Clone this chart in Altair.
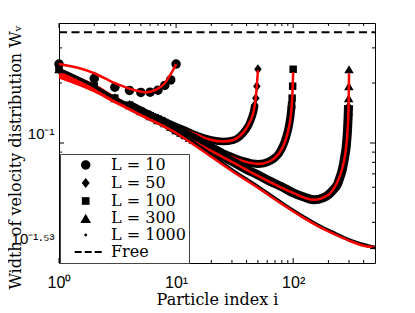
import altair as alt
import pandas as pd

# ---------------- data ----------------
free_i = [1, 500]
free_w = [0.359, 0.359]

l10_i = [1, 2, 3, 4, 5, 6, 7, 8, 9, 10]
l10_w = [0.249, 0.2106, 0.1905, 0.1835, 0.1793, 0.1799, 0.184, 0.1943, 0.2072, 0.249]
l10_fit_i = [1, 1.5, 2, 3, 4, 5, 5.5, 6, 7, 8, 9, 9.5, 10]
l10_fit_w = [0.249, 0.237, 0.2239, 0.1995, 0.1873, 0.1809, 0.1799, 0.1809, 0.1873, 0.1995, 0.2213, 0.2344, 0.249]

l50_mark_i = [1, 2, 3, 4, 5, 6, 7, 8, 47, 48, 49, 50]
l50_mark_w = [0.2344, 0.1928, 0.1679, 0.1549, 0.1445, 0.1380, 0.1326, 0.1281, 0.1549, 0.1679, 0.1928, 0.2344]
l50_band_i = [4, 5, 6, 8, 10, 12, 16, 20, 25, 31, 35, 39, 41, 43, 45, 46, 47]
l50_band_w = [0.1549, 0.1445, 0.1380, 0.1281, 0.1209, 0.1155, 0.1077, 0.1035, 0.1017, 0.1035, 0.1077, 0.1155, 0.1209, 0.1281, 0.1380, 0.1445, 0.1549]
l50_fit_i = [1, 2, 3, 5, 8, 12, 16, 20, 25.5, 31, 35, 39, 43, 46, 48, 49, 50]
l50_fit_w = [0.2291, 0.1950, 0.1698, 0.1445, 0.1288, 0.1161, 0.1084, 0.1035, 0.1017, 0.1035, 0.1084, 0.1161, 0.1288, 0.1445, 0.1698, 0.1950, 0.2317]

l100_mark_i = [1, 2, 3, 4, 5, 6, 7, 8, 97, 98, 99, 100]
l100_mark_w = [0.2344, 0.1928, 0.1679, 0.1549, 0.1445, 0.1372, 0.1318, 0.1266, 0.1549, 0.1679, 0.1928, 0.2344]
l100_band_i = [4, 5, 6, 8, 10, 12, 16, 20, 25, 30, 35, 40, 45, 50, 56, 61, 66, 71, 76, 81, 85, 89, 91, 93, 95, 97]
l100_band_w = [0.1549, 0.1445, 0.1372, 0.1266, 0.1182, 0.1122, 0.1023, 0.0955, 0.0891, 0.0851, 0.0822, 0.0804, 0.0790,
               0.0785, 0.0790, 0.0804, 0.0822, 0.0851, 0.0891, 0.0955, 0.1023, 0.1122, 0.1182, 0.1266, 0.1372, 0.1549]
l100_fit_i = [1, 2, 3, 5, 10, 16, 25, 35, 50.5, 66, 76, 85, 91, 96, 98, 99, 100]
l100_fit_w = [0.2239, 0.1905, 0.1660, 0.1413, 0.1161, 0.1012, 0.0891, 0.0822, 0.0785, 0.0822, 0.0891, 0.1012, 0.1161, 0.1413, 0.1660, 0.1905, 0.2265]

l300_mark_i = [1, 2, 3, 4, 5, 6, 7, 8, 9, 10, 11, 12, 13, 14, 296, 297, 298, 299, 300]
l300_mark_w = [0.2344, 0.1928, 0.1679, 0.1549, 0.1445, 0.1365, 0.1303, 0.1259, 0.1209, 0.1161, 0.1128, 0.1096, 0.1065, 0.1041,
               0.1445, 0.1549, 0.1679, 0.1928, 0.2344]
l300_band_i = [4, 5, 6, 8, 10, 12, 14, 16, 20, 25, 30, 40, 50, 65, 80, 100, 122, 150, 180, 200, 220, 240, 250, 260, 270, 278,
               283, 288, 291, 293, 295, 297]
l300_band_w = [0.1549, 0.1445, 0.1365, 0.1259, 0.1161, 0.1096, 0.1041, 0.0989, 0.0917, 0.0861, 0.0808, 0.0737, 0.0692, 0.0638,
               0.0603, 0.0562, 0.0537, 0.0519, 0.0531, 0.0550, 0.0582, 0.0624, 0.0668, 0.0716, 0.0794, 0.0881, 0.0944, 0.1059,
               0.1148, 0.1259, 0.1365, 0.1549]
l300_fit_i = [1, 2, 3, 5, 10, 20, 30, 50, 80, 100, 150, 200, 221, 251, 271, 281, 291, 296, 298, 299, 300]
l300_fit_w = [0.2188, 0.1862, 0.1622, 0.1380, 0.1135, 0.0912, 0.0804, 0.0684, 0.0596, 0.0562, 0.0519, 0.0550, 0.0589, 0.0684,
              0.0804, 0.0912, 0.1135, 0.1380, 0.1622, 0.1862, 0.2239]

l1000_i = [1, 2, 3, 5, 10, 16, 30, 50, 82, 122, 160, 220, 300, 400, 500]
l1000_w = [0.2344, 0.1928, 0.1679, 0.1445, 0.1161, 0.0955, 0.0733, 0.0603, 0.0495, 0.0427, 0.0389, 0.0355, 0.0327, 0.0309, 0.0299]
l1000_fit_w = [0.2138, 0.1820, 0.1603, 0.1380, 0.1122, 0.0933, 0.0724, 0.0596, 0.0490, 0.0422, 0.0385, 0.0351, 0.0324, 0.0305, 0.0299]

# axis ticks
x_major = [1, 10, 100]
x_minor = [2, 3, 4, 5, 6, 7, 8, 9, 20, 30, 40, 50, 60, 70, 80, 90, 200, 300, 400]
y_major = [0.029512, 0.1]
y_minor = [0.03, 0.04, 0.05, 0.06, 0.07, 0.08, 0.09, 0.2, 0.3]

legend_names = ["L = 10", "L = 50", "L = 100", "L = 300", "L = 1000", "Free"]
legend_paths = [
    "M2.77,0A0.67,0.67,0,1,1,1.43,0A0.67,0.67,0,1,1,2.77,0Z",
    "M2.1,-0.72L2.67,0L2.1,0.72L1.53,0Z",
    "M1.55,-0.55H2.65V0.55H1.55Z",
    "M2.1,-0.62L2.86,0.7H1.34Z",
    "M2.3,0A0.2,0.2,0,1,1,1.9,0A0.2,0.2,0,1,1,2.3,0Z",
    "M0.53,-0.15H1.53V0.15H0.53ZM1.96,-0.15H2.96V0.15H1.96ZM3.39,-0.15H4.39V0.15H3.39Z",
]

# ---------------- chart ----------------
W, H = 316, 240
RED = "#ff0000"
xs = alt.Scale(type="log", domain=[1, 500], nice=False)
ys = alt.Scale(type="log", domain=[0.025, 0.4], nice=False)

xaxis = alt.Axis(values=x_major, grid=False, ticks=False, tickSize=0, domain=False, labelFlush=False,
                 labelExpr="datum.value == 1 ? '10⁰' : (datum.value == 10 ? '10¹' : '10²')",
                 labelFont="Liberation Sans", labelFontSize=16, labelColor="black",
                 labelBaseline="alphabetic", labelPadding=24,
                 title="Particle index i", titleFont="DejaVu Serif", titleFontSize=16,
                 titleFontWeight="normal", titleColor="black", titleBaseline="alphabetic", titleY=41)
yaxis = alt.Axis(values=y_major, grid=False, ticks=False, tickSize=0, domain=False, labelFlush=False,
                 labelExpr="datum.value > 0.05 ? '10⁻¹' : '10⁻¹·⁵³'",
                 labelFont="Liberation Sans", labelFontSize=15, labelColor="black",
                 labelBaseline="alphabetic", labelOffset=-5, labelPadding=5,
                 title="Width of velocity distribution Wᵥ", titleFont="DejaVu Serif", titleFontSize=16,
                 titleFontWeight="normal", titleColor="black", titleAngle=-90, titleAlign="center",
                 titleBaseline="middle", titleX=-44, titleY=134)


def df(i, w):
    return pd.DataFrame({"i": i, "w": w})


def enc():
    return dict(x=alt.X("i:Q", scale=xs, axis=xaxis), y=alt.Y("w:Q", scale=ys, axis=yaxis))


def line(i, w, color, width, dash=None):
    kw = dict(color=color, strokeWidth=width, interpolate="monotone")
    if dash:
        kw["strokeDash"] = dash
    return alt.Chart(df(i, w)).mark_line(**kw).encode(**enc())


def pts(i, w, shape, size):
    return alt.Chart(df(i, w)).mark_point(filled=True, color="black", opacity=1, shape=shape, size=size).encode(**enc())


def xt(vals, length, top):
    c = alt.Chart(pd.DataFrame({"i": vals})).mark_rule(color="black", strokeWidth=1)
    if top:
        return c.encode(x=alt.X("i:Q", scale=xs, axis=xaxis), y=alt.value(0), y2=alt.value(length))
    return c.encode(x=alt.X("i:Q", scale=xs, axis=xaxis), y=alt.value(H), y2=alt.value(H - length))


def yt(vals, length, right):
    c = alt.Chart(pd.DataFrame({"w": vals})).mark_rule(color="black", strokeWidth=1)
    if right:
        return c.encode(y=alt.Y("w:Q", scale=ys, axis=yaxis), x=alt.value(W), x2=alt.value(W - length))
    return c.encode(y=alt.Y("w:Q", scale=ys, axis=yaxis), x=alt.value(0), x2=alt.value(length))


DIAMOND = "M0,-1L0.75,0L0,1L-0.75,0Z"

layers = [
    line(free_i, free_w, "black", 2, [8, 4.5]),
    line(l50_band_i, l50_band_w, "black", 7.5),
    pts(l50_mark_i, l50_mark_w, DIAMOND, 100),
    line(l50_fit_i, l50_fit_w, RED, 2.5),
    line(l100_band_i, l100_band_w, "black", 8),
    pts(l100_mark_i, l100_mark_w, "square", 56),
    line(l100_fit_i, l100_fit_w, RED, 2.5),
    line(l300_band_i, l300_band_w, "black", 9),
    pts(l300_mark_i, l300_mark_w, "triangle-up", 90),
    line(l300_fit_i, l300_fit_w, RED, 2.5),
    line(l1000_i, l1000_w, "black", 3.5),
    line(l1000_i, l1000_fit_w, RED, 2.5),
    pts(l10_i, l10_w, "circle", 90),
    line(l10_fit_i, l10_fit_w, RED, 2.5),
    xt(x_major, 5, False), xt(x_minor, 3, False), xt(x_major, 5, True), xt(x_minor, 3, True),
    yt(y_major, 5, False), yt(y_minor, 3, False), yt(y_major, 5, True), yt(y_minor, 3, True),
]

legend_layer = alt.Chart(pd.DataFrame({"s": legend_names})).mark_point(
    filled=True, color="black", size=196, opacity=1, clip=True
).encode(
    x=alt.value(-200), y=alt.value(-200),
    shape=alt.Shape("s:N", scale=alt.Scale(domain=legend_names, range=legend_paths),
                    legend=alt.Legend(orient="none", legendX=1, legendY=131, title=None, padding=3,
                                      symbolSize=196, labelOffset=32,
                                      labelFont="DejaVu Serif", labelFontSize=16, labelColor="black",
                                      rowPadding=1, fillColor="white", strokeColor="#444",
                                      symbolFillColor="black", symbolOpacity=1)),
)
layers.append(legend_layer)

chart = alt.layer(*layers).properties(
    width=W, height=H,
    autosize=alt.AutoSizeParams(type="none"),
    padding={"left": 51, "top": 15, "right": 32, "bottom": 42},
    background="white",
).configure_view(stroke="black", strokeWidth=1)

chart.save("out.html", embed_options={"renderer": "svg", "actions": False})
